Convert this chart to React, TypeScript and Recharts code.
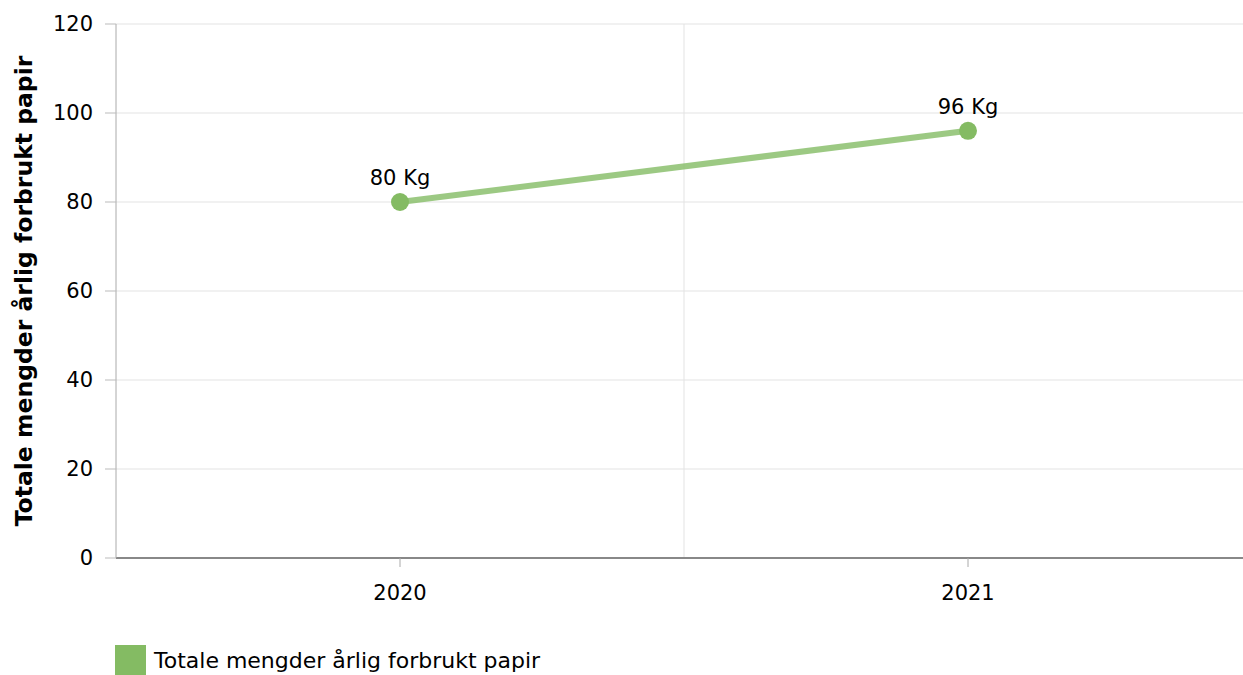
import React from 'react';
import { LineChart, Line, XAxis, YAxis, CartesianGrid, Legend, LabelList } from 'recharts';

const categories = ['2020', '2021'];
const values = [80, 96];
const yTicks = [0, 20, 40, 60, 80, 100, 120];
const seriesName = 'Totale mengder årlig forbrukt papir';
const yTitle = 'Totale mengder årlig forbrukt papir';

const data = categories.map((c, i) => ({ year: c, value: values[i] }));

const FONT = 'DejaVu Sans, Verdana, sans-serif';

const YLabel = (props: any) => {
  const vb = props.viewBox || {};
  const x = vb.x + 24;
  const y = vb.y + vb.height / 2;
  return (
    <text x={x} y={y} transform={`rotate(-90, ${x}, ${y})`} textAnchor="middle" dominantBaseline="central"
      style={{ fontFamily: FONT, fontSize: 23.5, fontWeight: 'bold', fill: '#000' }}>
      {yTitle}
    </text>
  );
};

const LegendContent = () => (
  <div style={{ display: 'flex', alignItems: 'center', fontFamily: FONT, fontSize: 22, color: '#000', whiteSpace: 'nowrap' }}>
    <span style={{ display: 'inline-block', width: 31, height: 31, background: '#84bb63', marginRight: 8 }} />
    <span>{seriesName}</span>
  </div>
);

export default function App() {
  return (
    <div style={{ position: 'absolute', left: 0, top: 0, width: 1243, height: 675, background: '#fff', overflow: 'hidden' }}>
      <LineChart width={1252} height={675} data={data} margin={{ top: 24, right: 0, bottom: 77, left: 0 }}>
        <CartesianGrid
          stroke="#e3e3e3"
          strokeWidth={1}
          verticalCoordinatesGenerator={({ offset }: any) => [offset.left + offset.width / 2]}
        />
        <XAxis
          dataKey="year"
          scale="band"
          height={40}
          axisLine={{ stroke: '#888', strokeWidth: 2 }}
          tickLine={{ stroke: '#aaa', strokeWidth: 1 }}
          tickSize={9}
          tickMargin={18}
          tick={{ fontFamily: FONT, fontSize: 21, fill: '#000' }}
        />
        <YAxis
          width={116}
          domain={[0, 120]}
          ticks={yTicks}
          interval={0}
          axisLine={{ stroke: '#aaa', strokeWidth: 1 }}
          tickLine={{ stroke: '#bbb', strokeWidth: 1 }}
          tickSize={11}
          tickMargin={12}
          tick={{ fontFamily: FONT, fontSize: 21, fill: '#000' }}
          label={<YLabel />}
        />
        <Legend
          layout="horizontal"
          verticalAlign="middle"
          align="center"
          content={<LegendContent />}
          wrapperStyle={{ position: 'absolute', left: 115, top: 645, width: 'auto', height: 31 }}
        />
        <Line
          dataKey="value"
          name={seriesName}
          stroke="#8bc06d"
          strokeOpacity={0.85}
          strokeWidth={6}
          dot={{ r: 9, fill: '#84bb63', stroke: 'none' }}
          activeDot={false}
          isAnimationActive={false}
        >
          <LabelList
            dataKey="value"
            position="top"
            offset={17}
            formatter={(v: any) => `${v} Kg`}
            style={{ fontFamily: FONT, fontSize: 21, fill: '#000' }}
          />
        </Line>
      </LineChart>
    </div>
  );
}
